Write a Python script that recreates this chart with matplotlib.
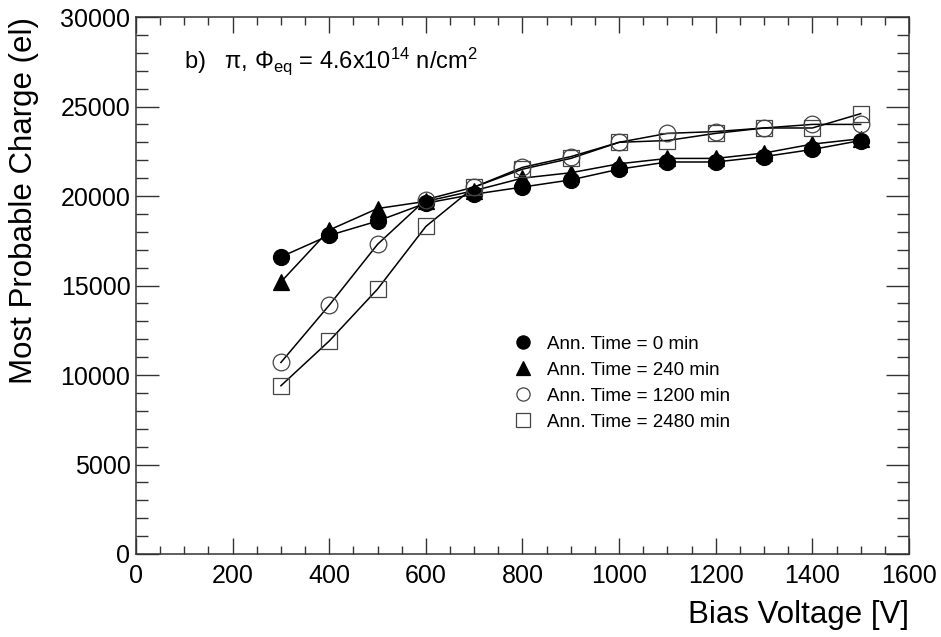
import matplotlib
matplotlib.use("Agg")
import matplotlib.pyplot as plt
from matplotlib.lines import Line2D
from matplotlib.ticker import MultipleLocator

plt.rcParams['font.family'] = ['Liberation Sans', 'DejaVu Sans']
plt.rcParams['mathtext.fontset'] = 'custom'
plt.rcParams['mathtext.rm'] = 'Liberation Sans'
plt.rcParams['mathtext.it'] = 'Liberation Sans'

voltage = [300, 400, 500, 600, 700, 800, 900, 1000, 1100, 1200, 1300, 1400, 1500]
charge_0 = [16600, 17800, 18600, 19600, 20100, 20500, 20900, 21500, 21900, 21900, 22200, 22600, 23100]
charge_240 = [15200, 18100, 19300, 19700, 20300, 21000, 21300, 21800, 22100, 22100, 22400, 22900, 23200]
charge_1200 = [10700, 13900, 17300, 19800, 20500, 21600, 22200, 23000, 23500, 23600, 23800, 24000, 24000]
charge_2480 = [9400, 11900, 14800, 18300, 20500, 21500, 22100, 23000, 23100, 23500, 23800, 23800, 24600]
labels = ["Ann. Time = 0 min", "Ann. Time = 240 min", "Ann. Time = 1200 min", "Ann. Time = 2480 min"]

fig = plt.figure(figsize=(9.41, 6.37), dpi=100)
ax = fig.add_axes([0.1445, 0.1303, 0.8215, 0.843])

series = [
    (charge_0, 'o', 'black', 'black', 11.5),
    (charge_240, '^', 'black', 'black', 12),
    (charge_1200, 'o', 'none', '#444444', 12),
    (charge_2480, 's', 'none', '#444444', 12),
]
handles = []
for (vals, m, fc, ec, ms), lab in zip(series, labels):
    ax.plot(voltage, vals, color='black', lw=1.1, zorder=2)
    ax.plot(voltage, vals, ls='none', marker=m, ms=ms, mfc=fc, mec=ec, mew=0.9, zorder=3)
    handles.append(Line2D([], [], ls='none', marker=m, ms=9.5, mfc=fc, mec=ec, mew=0.9, label=lab))

ax.legend(handles=handles, loc='upper left', bbox_to_anchor=(0.489, 0.407), frameon=False,
          fontsize=13.5, borderpad=0, handlelength=1.0, handletextpad=0.75, labelspacing=0.48,
          borderaxespad=0)

ax.set_xlim(0, 1600)
ax.set_ylim(0, 30000)
ax.xaxis.set_major_locator(MultipleLocator(200))
ax.xaxis.set_minor_locator(MultipleLocator(50))
ax.yaxis.set_major_locator(MultipleLocator(5000))
ax.yaxis.set_minor_locator(MultipleLocator(1000))
ax.tick_params(axis='both', which='both', direction='in', top=True, right=True, colors='#333333', width=1)
ax.tick_params(axis='x', which='major', length=11.5, labelsize=18, pad=7, labelcolor='black')
ax.tick_params(axis='x', which='minor', length=6)
ax.tick_params(axis='y', which='major', length=16.5, labelsize=18, pad=4, labelcolor='black')
ax.tick_params(axis='y', which='minor', length=8.5)
for s in ax.spines.values():
    s.set_color('#333333')
    s.set_linewidth(1.1)

ax.set_xlabel("Bias Voltage [V]", fontsize=22.5, loc='right')
ax.set_ylabel("Most Probable Charge (el)", fontsize=22.5, loc='top')
ax.xaxis.set_label_coords(1.0, -0.085)
ax.yaxis.set_label_coords(-0.125, 1.0)

ax.text(0.062, 0.905, r"b)   $\pi$, $\Phi_{\rm eq}$ = 4.6x10$^{14}$ n/cm$^{2}$",
        transform=ax.transAxes, fontsize=17, ha='left', va='baseline')

fig.savefig("out.png", dpi=100)
